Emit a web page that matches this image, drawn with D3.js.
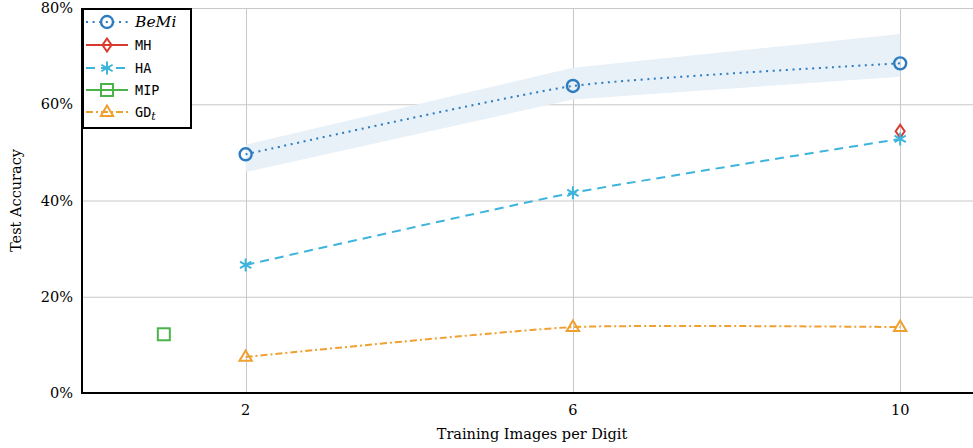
<!DOCTYPE html>
<html>
<head>
<meta charset="utf-8">
<script src="https://cdn.jsdelivr.net/npm/d3@7"></script>
<style>
  html, body { margin: 0; padding: 0; background: #fff; }
  svg { display: block; }
</style>
</head>
<body>
<script>
// Test accuracy vs. number of training images per digit
const digits = [2, 6, 10];
const bemiAcc = [49.6, 63.8, 68.5];
const bemiLow = [45.9, 61.0, 65.7];
const bemiHigh = [51.6, 67.6, 74.6];
const mhDigits = [10];
const mhAcc = [54.4];
const haAcc = [26.6, 41.6, 52.8];
const mipDigits = [1];
const mipAcc = [12.2];
const gdAcc = [7.5, 13.7, 13.7];
const xTicks = [2, 6, 10];
const yTicks = [0, 20, 40, 60, 80];

const W = 973, H = 448;
const svg = d3.select("body").append("svg").attr("width", W).attr("height", H);

const x = d3.scaleLinear().domain([0, 11]).range([82, 982]);
const y = d3.scaleLinear().domain([0, 80]).range([393, 8]);

const serif = "'DejaVu Serif', 'Liberation Serif', serif";
const mono = "'DejaVu Sans Mono', 'Liberation Mono', monospace";

const C = {
  bemi: "#2e7cc0",
  mh: "#d83a2e",
  ha: "#3db4dc",
  mip: "#4ab44a",
  gd: "#f0a030",
  band: "#e8f0f8"
};

// grid
const grid = svg.append("g").attr("stroke", "#c8c8c8").attr("stroke-width", 1);
grid.selectAll(".gy").data(yTicks).join("line")
  .attr("x1", 82).attr("x2", W).attr("y1", d => y(d) + 0.5).attr("y2", d => y(d) + 0.5);
grid.selectAll(".gx").data(xTicks).join("line")
  .attr("y1", y(80)).attr("y2", y(0)).attr("x1", d => Math.round(x(d)) + 0.5).attr("x2", d => Math.round(x(d)) + 0.5);

const pts = (xs, ys) => xs.map((d, i) => [d, ys[i]]);
const curve = d3.curveCardinal.tension(0.5);

// confidence band for BeMi
const band = d3.area()
  .x((d, i) => x(digits[i]))
  .y0((d, i) => y(bemiLow[i]))
  .y1((d, i) => y(bemiHigh[i]))
  .curve(d3.curveLinear);
svg.append("path").datum(digits).attr("d", band).attr("fill", C.band);

const line = d3.line().x(d => x(d[0])).y(d => y(d[1])).curve(curve);

const series = [
  { key: "bemi", data: pts(digits, bemiAcc), color: C.bemi, dash: "2,4.6", marker: "circle" },
  { key: "mh", data: pts(mhDigits, mhAcc), color: C.mh, dash: null, marker: "diamond" },
  { key: "ha", data: pts(digits, haAcc), color: C.ha, dash: "9,6", marker: "star" },
  { key: "mip", data: pts(mipDigits, mipAcc), color: C.mip, dash: null, marker: "square" },
  { key: "gd", data: pts(digits, gdAcc), color: C.gd, dash: "7,3,2,3", marker: "triangle" }
];

function drawMarker(g, type, cx, cy, color) {
  const sw = 2;
  if (type === "circle") {
    g.append("circle").attr("cx", cx).attr("cy", cy).attr("r", 6)
      .attr("fill", "none").attr("stroke", color).attr("stroke-width", 2.4);
  } else if (type === "diamond") {
    g.append("path").attr("d", `M${cx},${cy - 6.5}L${cx + 4.5},${cy}L${cx},${cy + 6.5}L${cx - 4.5},${cy}Z`)
      .attr("fill", "none").attr("stroke", color).attr("stroke-width", sw);
  } else if (type === "star") {
    const r = 6.5;
    let d = "";
    for (let k = 0; k < 3; k++) {
      const a = Math.PI / 2 + k * Math.PI / 3;
      d += `M${cx + r * Math.cos(a)},${cy - r * Math.sin(a)}L${cx - r * Math.cos(a)},${cy + r * Math.sin(a)}`;
    }
    g.append("path").attr("d", d).attr("stroke", color).attr("stroke-width", sw).attr("fill", "none");
  } else if (type === "square") {
    g.append("rect").attr("x", cx - 6).attr("y", cy - 6).attr("width", 12).attr("height", 12)
      .attr("fill", "none").attr("stroke", color).attr("stroke-width", sw);
  } else if (type === "triangle") {
    const r = 6.5;
    g.append("path").attr("d", `M${cx},${cy - r}L${cx + r * 0.95},${cy + r * 0.6}L${cx - r * 0.95},${cy + r * 0.6}Z`)
      .attr("fill", "none").attr("stroke", color).attr("stroke-width", sw);
  }
}

const plot = svg.append("g");
series.forEach(s => {
  if (s.data.length > 1) {
    plot.append("path").datum(s.data).attr("d", line)
      .attr("fill", "none").attr("stroke", s.color).attr("stroke-width", 2)
      .attr("stroke-dasharray", s.dash);
  }
});
series.forEach(s => {
  const g = plot.append("g");
  s.data.forEach(d => drawMarker(g, s.marker, x(d[0]), y(d[1]), s.color));
});

// axes
svg.append("line").attr("x1", 82).attr("x2", 82).attr("y1", y(80)).attr("y2", y(0) + 1)
  .attr("stroke", "#000").attr("stroke-width", 2);
svg.append("line").attr("x1", 81).attr("x2", W).attr("y1", y(0)).attr("y2", y(0))
  .attr("stroke", "#000").attr("stroke-width", 2);

svg.append("g").selectAll("text").data(yTicks).join("text")
  .attr("x", 73).attr("y", d => y(d) + 5).attr("text-anchor", "end")
  .attr("font-family", serif).attr("font-size", 14.5).text(d => d + "%");

svg.append("g").selectAll("text").data(xTicks).join("text")
  .attr("x", d => x(d)).attr("y", 415).attr("text-anchor", "middle")
  .attr("font-family", serif).attr("font-size", 14.5).text(d => d);

svg.append("text").attr("x", 532).attr("y", 439).attr("text-anchor", "middle")
  .attr("font-family", serif).attr("font-size", 14.5).text("Training Images per Digit");

svg.append("text").attr("transform", `translate(21,${y(40)}) rotate(-90)`).attr("text-anchor", "middle")
  .attr("font-family", serif).attr("font-size", 14.5).text("Test Accuracy");

// legend
const leg = svg.append("g");
leg.append("rect").attr("x", 83).attr("y", 9).attr("width", 108).attr("height", 119)
  .attr("fill", "#fff").attr("stroke", "#000").attr("stroke-width", 2);
const legY = [22, 45, 68, 90, 112];
series.forEach((s, i) => {
  const ly = legY[i];
  leg.append("line").attr("x1", 86).attr("x2", 128).attr("y1", ly).attr("y2", ly)
    .attr("stroke", s.color).attr("stroke-width", 2).attr("stroke-dasharray", s.dash);
  drawMarker(leg, s.marker, 107, ly, s.color);
});
const lt = (i) => leg.append("text").attr("x", 135).attr("y", legY[i] + 5);
lt(0).attr("font-family", serif).attr("font-style", "italic").attr("font-size", 15.5).text("BeMi");
lt(1).attr("font-family", mono).attr("font-size", 13.5).text("MH");
lt(2).attr("font-family", mono).attr("font-size", 13.5).text("HA");
lt(3).attr("font-family", mono).attr("font-size", 13.5).text("MIP");
const gdT = lt(4).attr("font-family", mono).attr("font-size", 13.5);
gdT.append("tspan").text("GD");
gdT.append("tspan").attr("dy", 3).attr("font-family", serif).attr("font-style", "italic")
  .attr("font-size", 11).text("t");
</script>
</body>
</html>
